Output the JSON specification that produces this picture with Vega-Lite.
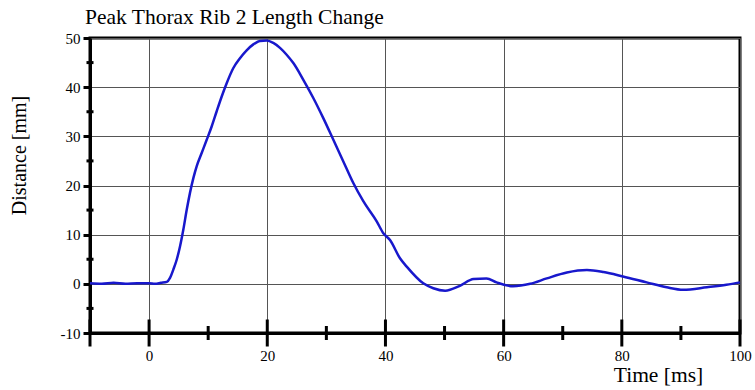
{
  "$schema": "https://vega.github.io/schema/vega-lite/v6.json",
  "autosize": "none",
  "width": 650,
  "height": 295,
  "padding": {"left": 90, "top": 38, "right": 15, "bottom": 57},
  "background": "white",
  "title": {
    "text": "Peak Thorax Rib 2 Length Change",
    "anchor": "start",
    "frame": "group",
    "dx": -5,
    "offset": 3,
    "font": "Liberation Serif",
    "fontSize": 21.5,
    "fontWeight": "normal",
    "color": "black"
  },
  "config": {
    "view": {"stroke": "black", "strokeWidth": 3},
    "axis": {
      "labelFont": "Liberation Serif",
      "titleFont": "Liberation Serif",
      "labelColor": "black",
      "titleColor": "black",
      "domainColor": "black",
      "domainWidth": 3,
      "tickColor": "black",
      "gridColor": "#555",
      "gridWidth": 1,
      "gridOpacity": 1,
      "labelFontSize": 14,
      "titleFontWeight": "normal"
    }
  },
  "datasets": {
    "curve": [
      {"t": -10, "d": 0.1}, {"t": -8, "d": 0.0}, {"t": -6, "d": 0.2}, {"t": -4, "d": 0.0},
      {"t": -2, "d": 0.1}, {"t": 0, "d": 0.1}, {"t": 1, "d": 0.0}, {"t": 2, "d": 0.2},
      {"t": 3, "d": 0.4}, {"t": 3.54, "d": 1.2}, {"t": 4.1, "d": 2.9}, {"t": 4.67, "d": 4.9},
      {"t": 5.23, "d": 7.6}, {"t": 5.79, "d": 11.0}, {"t": 6.36, "d": 15.0}, {"t": 6.92, "d": 18.5},
      {"t": 7.49, "d": 21.5}, {"t": 8.05, "d": 23.9}, {"t": 8.9, "d": 26.6}, {"t": 9.75, "d": 29.3},
      {"t": 10.59, "d": 32.0}, {"t": 11.44, "d": 35.1}, {"t": 12.29, "d": 38.1}, {"t": 13.13, "d": 40.8},
      {"t": 14.26, "d": 43.9}, {"t": 15.38, "d": 45.9}, {"t": 16.51, "d": 47.5}, {"t": 17.64, "d": 48.7},
      {"t": 18.77, "d": 49.4}, {"t": 19.9, "d": 49.5}, {"t": 21.02, "d": 49.0}, {"t": 22.15, "d": 48.0},
      {"t": 23.28, "d": 46.6}, {"t": 24.41, "d": 44.9}, {"t": 26.1, "d": 41.5}, {"t": 27.79, "d": 37.8},
      {"t": 29.48, "d": 33.7}, {"t": 31.18, "d": 29.3}, {"t": 32.87, "d": 24.9}, {"t": 34.56, "d": 20.5},
      {"t": 36.25, "d": 16.8}, {"t": 38.52, "d": 12.7}, {"t": 39.64, "d": 10.3}, {"t": 40.77, "d": 8.9},
      {"t": 42.46, "d": 5.2}, {"t": 43.6, "d": 3.5}, {"t": 46.4, "d": 0.1}, {"t": 48.1, "d": -0.9},
      {"t": 50.1, "d": -1.4}, {"t": 52.6, "d": -0.4}, {"t": 54.9, "d": 1.0}, {"t": 57.1, "d": 1.1},
      {"t": 58.8, "d": 0.3}, {"t": 61.6, "d": -0.5}, {"t": 64.5, "d": 0.0}, {"t": 67.3, "d": 1.1},
      {"t": 70.7, "d": 2.3}, {"t": 74.1, "d": 2.8}, {"t": 76.9, "d": 2.4}, {"t": 80.2, "d": 1.5},
      {"t": 84.2, "d": 0.3}, {"t": 87.6, "d": -0.7}, {"t": 90.4, "d": -1.2}, {"t": 94.4, "d": -0.7},
      {"t": 97.7, "d": -0.2}, {"t": 100, "d": 0.3}
    ],
    "xmajor": [
      {"t": -10, "d": -10}, {"t": 0, "d": -10}, {"t": 20, "d": -10}, {"t": 40, "d": -10},
      {"t": 60, "d": -10}, {"t": 80, "d": -10}, {"t": 100, "d": -10}
    ],
    "xminor": [
      {"t": 10, "d": -10}, {"t": 30, "d": -10}, {"t": 50, "d": -10}, {"t": 70, "d": -10}, {"t": 90, "d": -10}
    ],
    "yminor": [
      {"t": -10, "d": -5}, {"t": -10, "d": 5}, {"t": -10, "d": 15}, {"t": -10, "d": 25},
      {"t": -10, "d": 35}, {"t": -10, "d": 45}
    ]
  },
  "encoding": {
    "x": {
      "field": "t",
      "type": "quantitative",
      "scale": {"domain": [-10, 100], "nice": false, "zero": false},
      "axis": {
        "values": [0, 20, 40, 60, 80, 100],
        "labelExpr": "'' + datum.value",
        "labelFont": "Liberation Serif",
        "labelFontSize": 15,
        "ticks": false,
        "labelPadding": 15,
        "title": "Time [ms]",
        "titleFont": "Liberation Serif",
        "titleFontSize": 21.5,
        "titleX": 568,
        "titleY": 42,
        "titleAlign": "center",
        "titleBaseline": "middle",
        "labelFlush": false
      }
    },
    "y": {
      "field": "d",
      "type": "quantitative",
      "scale": {"domain": [-10, 50], "nice": false, "zero": false},
      "axis": {
        "values": [-10, 0, 10, 20, 30, 40, 50],
        "labelExpr": "'' + datum.value",
        "labelFont": "Liberation Serif",
        "labelFontSize": 15,
        "tickSize": 7,
        "tickWidth": 3,
        "labelPadding": 3,
        "title": "Distance [mm]",
        "titleFont": "Liberation Serif",
        "titleFontSize": 20,
        "titleAngle": -90,
        "titleX": -71,
        "titleY": 117,
        "titleAlign": "center",
        "titleBaseline": "middle",
        "labelFlush": false
      }
    }
  },
  "layer": [
    {
      "data": {"name": "curve"},
      "mark": {"type": "line", "color": "#1818cc", "strokeWidth": 2.5, "interpolate": "monotone"}
    },
    {
      "data": {"name": "xmajor"},
      "mark": {"type": "tick", "orient": "vertical", "color": "black", "size": 27, "thickness": 3, "opacity": 1}
    },
    {
      "data": {"name": "xminor"},
      "mark": {"type": "tick", "orient": "vertical", "color": "black", "size": 14, "thickness": 3, "opacity": 1}
    },
    {
      "data": {"name": "yminor"},
      "mark": {"type": "tick", "orient": "horizontal", "color": "black", "size": 7, "thickness": 3, "opacity": 1}
    }
  ]
}
